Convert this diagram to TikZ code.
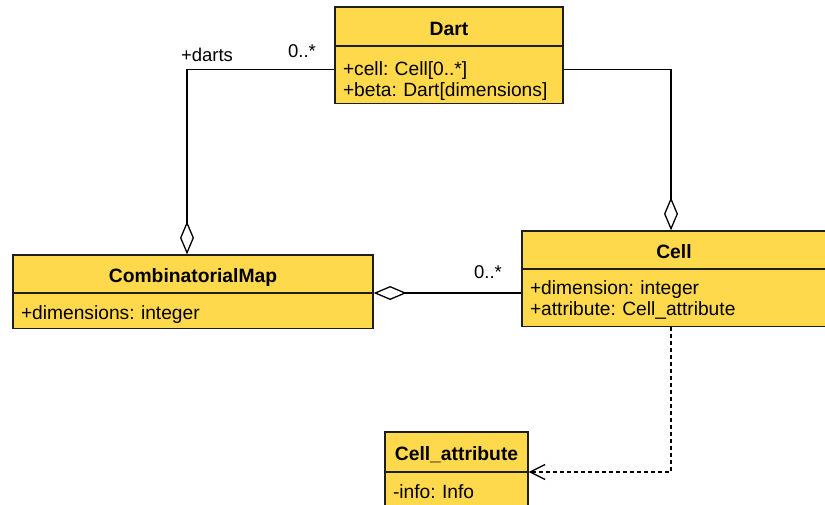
\documentclass[tikz,border=0pt]{standalone}
\usepackage{fontspec}
\setmainfont{Liberation Sans}
\frenchspacing
\usetikzlibrary{arrows.meta,calc}
\definecolor{umlfill}{RGB}{255,217,76}
\definecolor{umlline}{RGB}{30,30,30}
\newcommand{\toppad}[1]{\rule{0pt}{#1pt}}
\begin{document}
\begin{tikzpicture}[x=1pt,y=-1pt,
  every node/.style={font=\fontsize{19.2}{21}\selectfont},
  hdr/.style={draw=umlline, fill=umlfill, line width=1.3pt, inner sep=0pt, text height=17.8pt, text depth=0pt, font=\fontsize{19.3}{21}\selectfont\bfseries},
  bdy/.style={draw=umlline, fill=umlfill, line width=1.3pt, inner xsep=8pt, inner ysep=0pt, align=left, anchor=north},
  conn/.style={line width=1.3pt, draw=black},
  aggr/.style={conn, -{Diamond[open,length=33pt,width=14pt,line width=1.3pt]}},
  dep/.style={conn, dash pattern=on 4pt off 3pt, -{Straight Barb[length=15pt,width=15pt,line width=1.3pt]}},
  lbl/.style={inner sep=0pt, font=\fontsize{18.5}{21}\selectfont}]
\useasboundingbox (0,0) rectangle (825,504);

% Dart
\node[hdr, minimum width=228pt, minimum height=39pt] (darth) at (449,26.5) {Dart};
\node[bdy, minimum height=57pt, text width=212pt] (dartb) at (449,46) {\toppad{26}+cell: Cell[0..*]\\+beta: Dart[dimensions]};

% CombinatorialMap
\node[hdr, minimum width=360pt, minimum height=38pt] (cmh) at (193,274) {CombinatorialMap};
\node[bdy, minimum height=35pt, text width=344pt] (cmb) at (193,293) {\toppad{20}+dimensions: integer};

% Cell
\node[hdr, minimum width=304pt, minimum height=38pt] (cellh) at (674,250) {Cell};
\node[bdy, minimum height=57pt, text width=288pt] (cellb) at (674,269) {\toppad{18}+dimension: integer\\+attribute: Cell\_attribute};

% Cell_attribute
\node[hdr, minimum width=143pt, minimum height=40pt] (attrh) at (456.5,452) {Cell\_attribute};
\node[bdy, minimum height=38pt, text width=127pt] (attrb) at (456.5,472) {-info: Info};

% helper coordinates
\coordinate (cmx) at (187,0);
\coordinate (cx) at (671,0);

% connectors
\draw[aggr] ([yshift=6pt]dartb.west) -| (cmx |- cmh.north);
\draw[aggr] ([yshift=6pt]dartb.east) -| (cx |- cellh.north);
\draw[aggr] (cellb.west |- cmb.north east) -- (cmb.north east);
\draw[dep] (cx |- cellb.south) |- (attrb.north east);

% labels
\node[lbl] (ldarts) at (207,55) {+darts};
\node[lbl] (lmul1) at (302,51) {0..*};
\node[lbl] (lmul2) at (488,272) {0..*};
\end{tikzpicture}
\end{document}
